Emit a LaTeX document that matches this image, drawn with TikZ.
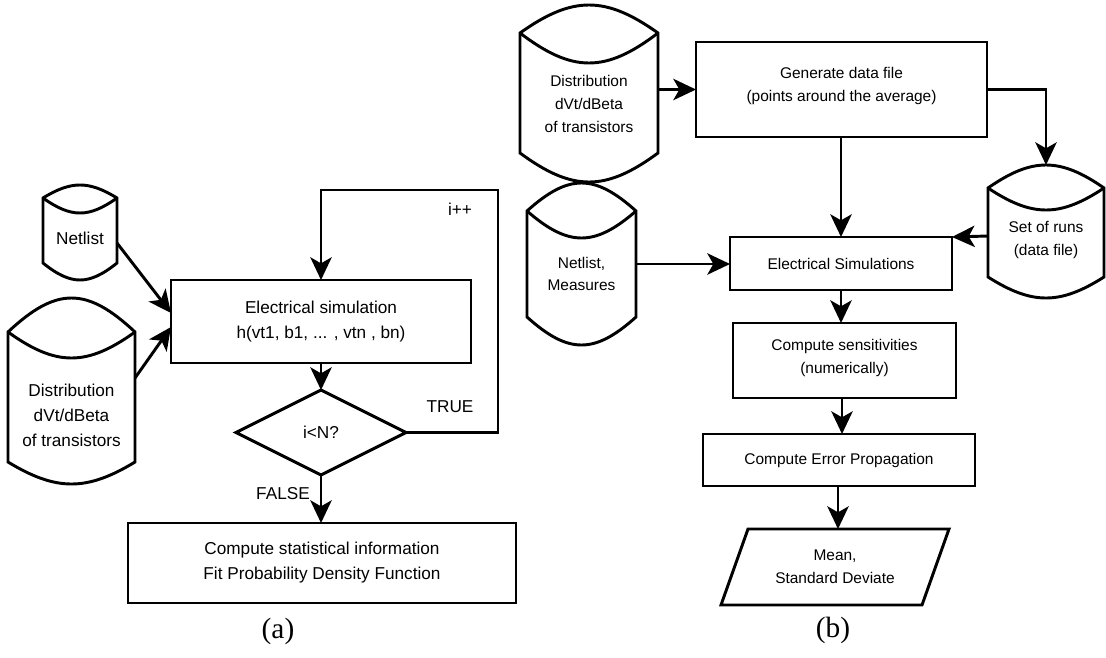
\documentclass[tikz,border=0pt]{standalone}
\usepackage{fontspec}
\setmainfont{Liberation Sans}
\newfontfamily\capfont{Liberation Serif}
\usetikzlibrary{arrows.meta,shapes.geometric,calc}
\tikzset{
  ln/.style={line width=2.2pt, line join=miter},
  arr/.style={ln, -{Stealth[length=17pt, width=16pt, inset=4.5pt]}},
  cylbox/.style={rectangle, draw=none, inner sep=0pt, outer sep=0pt},
  box/.style={rectangle, draw, ln, inner sep=0pt, outer sep=0pt, align=center},
  txt/.style={inner sep=0pt, outer sep=0pt, align=center},
  fontL/.style={font=\fontsize{12.9}{18.75}\selectfont},
  fontR/.style={font=\fontsize{11.6}{16.9}\selectfont},
  capt/.style={inner sep=0pt, font=\capfont\fontsize{22}{24}\selectfont},
}
\newcommand\drawcyl[8]{%
  \pgfmathsetmacro\cyw{(#3-#2)*0.38}%
  \pgfmathsetmacro\cyta{#5-4/3*(#5-#4)}%
  \pgfmathsetmacro\cyia{#5+4/3*(#6-#5)}%
  \pgfmathsetmacro\cyba{#7+4/3*(#8-#7)}%
  \pgfmathsetmacro\cycx{(#2+#3)/2}%
  \pgfmathsetmacro\cycy{(#4+#8)/2}%
  \pgfmathsetmacro\cywd{(#3-#2)*0.75}%
  \pgfmathsetmacro\cyht{(#8-#4)*0.75}%
  \node[cylbox, minimum width=\cywd pt, minimum height=\cyht pt] (#1) at (\cycx,\cycy) {};
  \draw[ln] (#2,#5) .. controls ({#2+\cyw},\cyta) and ({#3-\cyw},\cyta) .. (#3,#5) -- (#3,#7)
     .. controls ({#3-\cyw},\cyba) and ({#2+\cyw},\cyba) .. (#2,#7) -- cycle;
  \draw[ln] (#2,#5) .. controls ({#2+\cyw},\cyia) and ({#3-\cyw},\cyia) .. (#3,#5);
}
\begin{document}
\begin{tikzpicture}[x=0.75pt, y=-0.75pt]
\useasboundingbox (0,0) rectangle (1106,657);

% ---------------- (a) ----------------
\drawcyl{netL}{43}{117}{185}{198}{213}{263}{280}
\node[txt, fontL] (netLt) at (80,238) {Netlist};
\drawcyl{distL}{8}{135}{298}{332}{358}{462}{484}
\node[txt, fontL] (distLt) at (71.5,415) {Distribution\\dVt/dBeta\\of transistors};

\node[box, fontL, minimum width=225pt, minimum height=62.25pt] (esim) at (321,321.5)
  {Electrical simulation\\h(vt1, b1, ... , vtn , bn)};
\node[diamond, draw, ln, fontL, aspect=2, minimum width=127.5pt, minimum height=63.75pt,
  inner sep=0pt, outer sep=0pt] (dec) at (321,432.5) {i<N?};
\node[box, fontL, minimum width=291pt, minimum height=60pt] (stat) at (322,563)
  {Compute statistical information\\Fit Probability Density Function};

\draw[arr] (netL.east |- 0,243) -- (esim.west |- 0,313);
\draw[arr] (distL.east |- 0,378) -- (esim.west |- 0,327);
\draw[arr] (esim.south) -- (dec.north);
\draw[arr] (dec.east) -| (498,190) -| (esim.north);
\draw[arr] (dec.south) -- (stat.north -| dec.south);

\node[txt, fontL] (ipp) at (460,209) {i++};
\node[txt, fontL] (true) at (450,407) {TRUE};
\node[txt, fontL] (false) at (283,494) {FALSE};
\node[capt] (capa) at (278,631) {(a)};

% ---------------- (b) ----------------
\drawcyl{distR}{520}{658}{5}{33}{63}{153}{182}
\node[txt, fontR] (distRt) at (589,104) {Distribution\\dVt/dBeta\\of transistors};
\drawcyl{netR}{527}{636}{183}{211}{238}{317}{345}
\node[txt, fontR] (netRt) at (581.5,274) {Netlist,\\Measures};
\drawcyl{runs}{988}{1104}{165}{188}{210}{277}{298}
\node[txt, fontR] (runst) at (1046,240) {Set of runs\\(data file)};

\node[box, fontR, minimum width=218.25pt, minimum height=71.25pt] (gen) at (841.5,89.5) {};
\node[txt, fontR] (gent) at (841.5,86) {Generate data file\\(points around the average)};
\node[box, fontR, minimum width=166.5pt, minimum height=39.75pt] (esR) at (841,263.5)
  {Electrical Simulations};
\node[box, fontR, minimum width=167.25pt, minimum height=56.25pt] (sens) at (844.5,360.5) {};
\node[txt, fontR] (senst) at (844.5,358) {Compute sensitivities\\(numerically)};
\node[box, fontR, minimum width=204pt, minimum height=39pt] (err) at (839,460)
  {Compute Error Propagation};
\node[txt, fontR, minimum height=57pt] (out) at (835,567) {Mean,\\Standard Deviate};
\draw[ln] (721,605) -- (748,529) -- (949,529) -- (922,605) -- cycle;

\draw[arr] (distR.east |- gen.west) -- (gen.west);
\draw[arr] (gen.east) -| (runs.north);
\draw[arr] (gen.south -| esR.north) -- (esR.north);
\draw[arr] (runs.west |- 0,236) -- (esR.north east);
\draw[arr] (netR.east) -- (esR.west |- netR.east);
\draw[arr] (esR.south) -- (esR.south |- sens.north);
\draw[arr] (sens.south -| 842,0) -- (err.north -| 842,0);
\draw[arr] (err.south -| 838,0) -- (out.north -| 838,0);

\node[capt] (capb) at (833,630) {(b)};
\end{tikzpicture}
\end{document}
